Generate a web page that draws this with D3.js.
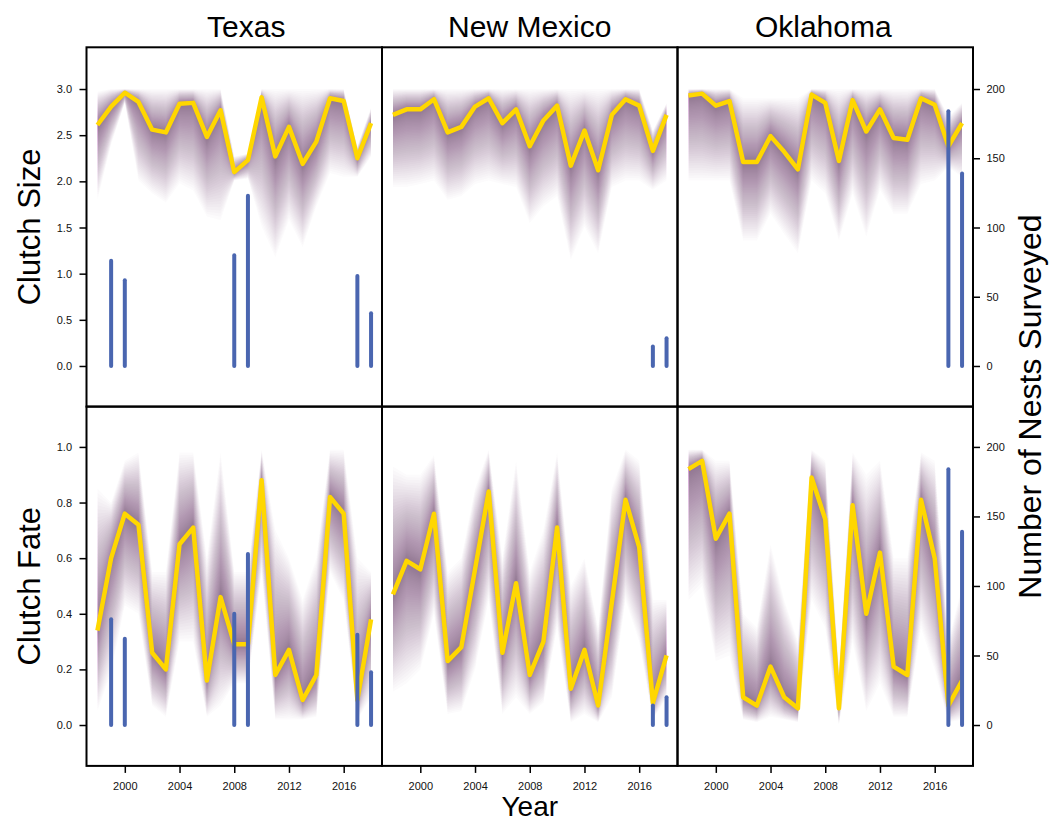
<!DOCTYPE html>
<html>
<head>
<meta charset="utf-8">
<script src="https://cdn.jsdelivr.net/npm/d3@7"></script>
<style>
body { margin: 0; background: #fff; }
text { font-family: Arial, "Liberation Sans", sans-serif; }
</style>
</head>
<body>
<svg id="chart" width="1062" height="822"></svg>
<script>

// Years surveyed / modelled
var years = [1998, 1999, 2000, 2001, 2002, 2003, 2004, 2005, 2006, 2007, 2008,
             2009, 2010, 2011, 2012, 2013, 2014, 2015, 2016, 2017, 2018];
var states = ["Texas", "New Mexico", "Oklahoma"];

// Clutch size: median + lower/upper edge of posterior shading
var txSize   = [2.61, 2.81, 2.96, 2.86, 2.56, 2.53, 2.84, 2.85, 2.48, 2.77, 2.10, 2.23, 2.91, 2.27, 2.59, 2.19, 2.43, 2.90, 2.87, 2.25, 2.63];
var txSizeLo = [1.80, 2.40, 2.85, 2.01, 1.87, 1.77, 1.98, 1.90, 1.62, 1.58, 2.01, 2.03, 1.51, 1.18, 1.58, 1.29, 1.73, 2.09, 2.05, 2.05, 2.27];
var txSizeHi = [2.97, 3.00, 3.00, 3.00, 3.00, 3.00, 3.00, 3.00, 3.00, 3.00, 2.27, 2.30, 3.00, 3.00, 3.00, 3.00, 3.00, 3.00, 3.00, 2.38, 2.80];
var nmSize   = [2.72, 2.78, 2.78, 2.89, 2.53, 2.59, 2.81, 2.90, 2.63, 2.78, 2.38, 2.66, 2.82, 2.17, 2.55, 2.12, 2.72, 2.89, 2.82, 2.33, 2.72];
var nmSizeLo = [1.94, 1.94, 1.97, 2.01, 1.80, 1.84, 1.97, 2.01, 1.97, 1.94, 1.55, 1.73, 1.84, 1.15, 1.51, 1.22, 1.94, 2.01, 2.01, 1.91, 2.01];
var nmSizeHi = [3.00, 3.00, 3.00, 3.00, 3.00, 3.00, 3.00, 3.00, 3.00, 3.00, 3.00, 3.00, 3.00, 3.00, 3.00, 3.00, 3.00, 3.00, 3.00, 2.55, 2.85];
var okSize   = [2.93, 2.95, 2.82, 2.87, 2.21, 2.21, 2.49, 2.32, 2.13, 2.94, 2.85, 2.22, 2.88, 2.54, 2.78, 2.47, 2.45, 2.90, 2.83, 2.38, 2.63];
var okSizeLo = [2.01, 2.01, 2.01, 2.01, 1.36, 1.36, 1.65, 1.43, 1.22, 2.01, 1.87, 1.36, 1.87, 1.40, 1.91, 1.65, 1.65, 1.97, 2.01, 2.15, 2.05];
var okSizeHi = [3.00, 3.00, 3.00, 3.00, 2.90, 2.90, 2.90, 2.90, 2.90, 3.00, 3.00, 3.00, 3.00, 3.00, 3.00, 3.00, 3.00, 3.00, 3.00, 2.70, 2.85];

// Clutch fate: median + lower/upper edge of posterior shading
var txFate   = [0.34, 0.60, 0.76, 0.72, 0.26, 0.20, 0.65, 0.71, 0.16, 0.46, 0.29, 0.29, 0.88, 0.18, 0.27, 0.09, 0.18, 0.82, 0.76, 0.09, 0.38];
var txFateLo = [0.05, 0.19, 0.43, 0.40, 0.07, 0.03, 0.30, 0.30, 0.03, 0.07, 0.15, 0.15, 0.55, 0.02, 0.02, 0.02, 0.03, 0.55, 0.45, 0.02, 0.10];
var txFateHi = [0.85, 0.80, 0.95, 0.98, 0.55, 0.55, 0.98, 0.98, 0.60, 0.98, 0.55, 0.55, 0.99, 0.70, 0.60, 0.45, 0.60, 0.99, 0.99, 0.60, 0.55];
var nmFate   = [0.47, 0.59, 0.56, 0.76, 0.23, 0.28, 0.56, 0.84, 0.26, 0.51, 0.18, 0.30, 0.71, 0.13, 0.27, 0.07, 0.44, 0.81, 0.64, 0.08, 0.25];
var nmFateLo = [0.12, 0.15, 0.20, 0.40, 0.04, 0.05, 0.20, 0.45, 0.04, 0.10, 0.04, 0.08, 0.35, 0.01, 0.04, 0.01, 0.10, 0.45, 0.30, 0.02, 0.10];
var nmFateHi = [0.93, 0.90, 0.90, 0.97, 0.55, 0.60, 0.85, 0.99, 0.60, 0.95, 0.55, 0.70, 0.98, 0.50, 0.60, 0.35, 0.85, 0.99, 0.95, 0.45, 0.45];
var okFate   = [0.92, 0.95, 0.67, 0.76, 0.10, 0.07, 0.21, 0.10, 0.06, 0.89, 0.74, 0.06, 0.79, 0.40, 0.62, 0.21, 0.18, 0.81, 0.60, 0.07, 0.16];
var okFateLo = [0.45, 0.50, 0.23, 0.25, 0.02, 0.01, 0.03, 0.02, 0.01, 0.45, 0.35, 0.00, 0.30, 0.05, 0.15, 0.03, 0.03, 0.35, 0.20, 0.01, 0.02];
var okFateHi = [0.99, 0.99, 0.95, 0.95, 0.40, 0.35, 0.65, 0.45, 0.30, 0.99, 0.95, 0.20, 0.98, 0.90, 0.95, 0.60, 0.60, 0.98, 0.95, 0.30, 0.50];

// Number of nests surveyed
var txNestYears = [1999, 2000, 2008, 2009, 2017, 2018];
var txNests     = [76, 62, 80, 123, 65, 38];
var nmNestYears = [2017, 2018];
var nmNests     = [14, 20];
var okNestYears = [2017, 2018];
var okNests     = [184, 139];

var sizeTicks = [0, 0.5, 1, 1.5, 2, 2.5, 3];
var fateTicks = [0, 0.2, 0.4, 0.6, 0.8, 1];
var nestTicks = [0, 50, 100, 150, 200];
var yearTicks = [2000, 2004, 2008, 2012, 2016];

var padLeft = 86.5, padTop = 47.3, pw = 295.5, ph = 359.3;
var titleShift = [12, 0, -2];

var svg = d3.select("#chart");

var x = d3.scaleLinear().domain([1997.2, 2018.8]).range([0, pw]);
var ySize = d3.scaleLinear().domain([-0.44, 3.452]).range([ph, 0]);
var yFate = d3.scaleLinear().domain([-0.147, 1.145]).range([ph, 0]);
var yNestTop = d3.scaleLinear().domain([-29.33, 230.13]).range([ph, 0]);
var yNestBot = d3.scaleLinear().domain([-29.4, 229]).range([ph, 0]);

var rows = [
  { y: ySize, yn: yNestTop, ticks: sizeTicks, label: "Clutch Size",
    panels: [[txSize, txSizeLo, txSizeHi], [nmSize, nmSizeLo, nmSizeHi], [okSize, okSizeLo, okSizeHi]] },
  { y: yFate, yn: yNestBot, ticks: fateTicks, label: "Clutch Fate",
    panels: [[txFate, txFateLo, txFateHi], [nmFate, nmFateLo, nmFateHi], [okFate, okFateLo, okFateHi]] }
];
var nestData = [[txNestYears, txNests], [nmNestYears, nmNests], [okNestYears, okNests]];

var nLayers = 50;

rows.forEach(function(row, r) {
  row.panels.forEach(function(p, c) {
    var med = p[0], lo = p[1], hi = p[2];
    var g = svg.append("g")
        .attr("transform", "translate(" + (padLeft + c * pw) + "," + (padTop + r * ph) + ")");

    var clipId = "clip" + r + c;
    g.append("clipPath").attr("id", clipId)
      .append("rect").attr("width", pw).attr("height", ph);

    var inner = g.append("g").attr("clip-path", "url(#" + clipId + ")");

    // posterior shading: stacked translucent bands, denser near the median
    for (var k = 1; k <= nLayers; k++) {
      var t = Math.pow(k / nLayers, 1.5);
      var area = d3.area()
          .x(function(d, i) { return x(years[i]); })
          .y0(function(d, i) { return row.y(med[i] - (med[i] - lo[i]) * t); })
          .y1(function(d, i) { return row.y(med[i] + (hi[i] - med[i]) * t); });
      inner.append("path")
          .datum(med)
          .attr("d", area)
          .style("fill", "#6e2c7e")
          .style("fill-opacity", 0.021);
    }

    var line = d3.line()
        .x(function(d, i) { return x(years[i]); })
        .y(function(d) { return row.y(d); });
    inner.append("path")
        .datum(med)
        .attr("d", line)
        .style("fill", "none")
        .style("stroke", "#ffd700")
        .style("stroke-width", 4.5)
        .style("stroke-linejoin", "round");

    var ny = nestData[c][0], nv = nestData[c][1];
    inner.selectAll("line.nest")
        .data(nv)
      .enter().append("line")
        .attr("class", "nest")
        .attr("x1", function(d, i) { return x(ny[i]); })
        .attr("x2", function(d, i) { return x(ny[i]); })
        .attr("y1", row.yn(0))
        .attr("y2", function(d) { return row.yn(d); })
        .style("stroke", "#4a66b0")
        .style("stroke-width", 4)
        .style("stroke-linecap", "round");

    g.append("rect")
        .attr("width", pw).attr("height", ph)
        .style("fill", "none")
        .style("stroke", "#000")
        .style("stroke-width", 2);

    if (c === 0) {
      g.append("g")
          .attr("class", "axis")
          .call(d3.axisLeft(row.y).tickValues(row.ticks).tickSize(7).tickPadding(7.5).tickFormat(d3.format(".1f")));
    }
    if (c === 2) {
      g.append("g")
          .attr("class", "axis")
          .attr("transform", "translate(" + pw + ",0)")
          .call(d3.axisRight(row.yn).tickValues(nestTicks).tickSize(7).tickPadding(6.5));
    }
    if (r === 1) {
      g.append("g")
          .attr("class", "axis")
          .attr("transform", "translate(0," + ph + ")")
          .call(d3.axisBottom(x).tickValues(yearTicks).tickSize(7).tickPadding(9.5).tickFormat(d3.format("d")));
    }
    if (r === 0) {
      svg.append("text")
          .attr("x", padLeft + c * pw + pw / 2 + titleShift[c])
          .attr("y", 36.7)
          .style("text-anchor", "middle")
          .style("font-size", "30px")
          .text(states[c]);
    }
  });

  svg.append("text")
      .attr("transform", "translate(40," + (padTop + r * ph + ph / 2) + ") rotate(-90)")
      .style("text-anchor", "middle")
      .style("font-size", "31px")
      .text(row.label);
});

svg.selectAll(".axis .domain").remove();
svg.selectAll(".axis line").style("stroke", "#000").style("stroke-width", 1.5);
svg.selectAll(".axis text").style("font-size", "11px").style("fill", "#111")
    .style("font-family", "Arial, 'Liberation Sans', sans-serif");

svg.append("text")
    .attr("x", padLeft + 1.5 * pw)
    .attr("y", 816)
    .style("text-anchor", "middle")
    .style("font-size", "28px")
    .text("Year");

svg.append("text")
    .attr("transform", "translate(1041," + (padTop + ph) + ") rotate(-90)")
    .style("text-anchor", "middle")
    .style("font-size", "32px")
    .text("Number of Nests Surveyed");

</script>
</body>
</html>
